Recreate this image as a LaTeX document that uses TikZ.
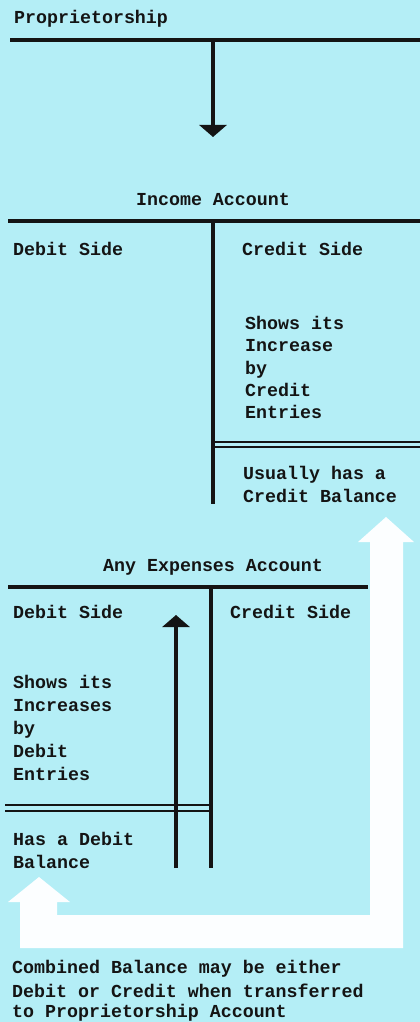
\documentclass[tikz,border=0pt]{standalone}
\usepackage{fontspec}
\setmainfont{Liberation Mono}
\usetikzlibrary{arrows.meta}
\definecolor{bgcyan}{RGB}{180,238,246}
\definecolor{ink}{RGB}{20,20,20}
\definecolor{whitearrow}{RGB}{252,254,255}
\begin{document}
\begin{tikzpicture}[x=1pt,y=-1pt,
  txt/.style={anchor=base west,inner sep=0pt,text=ink,font=\bfseries\fontsize{18.3}{22}\selectfont},
  ctxt/.style={anchor=base,inner sep=0pt,text=ink,font=\bfseries\fontsize{18.3}{22}\selectfont},
  rule/.style={draw=ink,line width=3.6pt},
  vrule/.style={draw=ink,line width=4.2pt},
  thin/.style={draw=ink,line width=1.4pt},
  blackarrow/.style={draw=ink,line width=4.2pt,-{Triangle[width=27pt,length=12pt]}}]
\fill[bgcyan] (0,0) rectangle (420,1022);
\useasboundingbox (0,0) rectangle (420,1022);
% white return arrow
\fill[whitearrow] (386,517) -- (414,542) -- (403,542) -- (403,948) -- (20,948) -- (20,902) -- (8,902) -- (39,877) -- (70,902) -- (57,902) -- (57,915) -- (370,915) -- (370,542) -- (358,542) -- cycle;
% Proprietorship
\node[txt] (prop) at (14,24) {Proprietorship};
\coordinate (pL) at (10,40);
\coordinate (pR) at (420,40);
\coordinate (pM) at (213,40);
\coordinate (pArrow) at (213,137);
\draw[rule] (pL) -- (pR);
\draw[blackarrow] (pM) -- (pArrow);
% Income account
\node[ctxt] (inc) at (213,205) {Income Account};
\coordinate (iL) at (8,221);
\coordinate (iR) at (420,221);
\coordinate (iT) at (213,221);
\coordinate (iB) at (213,504);
\draw[rule] (iL) -- (iR);
\draw[vrule] (iT) -- (iB);
\node[txt] (idebit) at (13,255) {Debit Side};
\node[txt] (icredit) at (242,255) {Credit Side};
\node[txt] (i1) at (245,329) {Shows its};
\node[txt] (i2) at (245,351) {Increase};
\node[txt] (i3) at (245,374) {by};
\node[txt] (i4) at (245,396) {Credit};
\node[txt] (i5) at (245,418) {Entries};
\coordinate (d1L) at (213,442);
\coordinate (d1R) at (420,442);
\coordinate (d2L) at (213,447);
\coordinate (d2R) at (420,447);
\draw[thin] (d1L) -- (d1R);
\draw[thin] (d2L) -- (d2R);
\node[txt] (i6) at (243,479) {Usually has a};
\node[txt] (i7) at (243,502) {Credit Balance};
% Expenses account
\node[ctxt] (exp) at (213,571) {Any Expenses Account};
\coordinate (eL) at (8,587);
\coordinate (eR) at (368,587);
\coordinate (eT) at (211,587);
\coordinate (eB) at (211,868);
\draw[rule] (eL) -- (eR);
\draw[vrule] (eT) -- (eB);
\coordinate (aB) at (176,868);
\coordinate (aT) at (176,615);
\draw[blackarrow] (aB) -- (aT);
\node[txt] (edebit) at (13,618) {Debit Side};
\node[txt] (ecredit) at (230,618) {Credit Side};
\node[txt] (e1) at (13,688) {Shows its};
\node[txt] (e2) at (13,711) {Increases};
\node[txt] (e3) at (13,734) {by};
\node[txt] (e4) at (13,757) {Debit};
\node[txt] (e5) at (13,780) {Entries};
\coordinate (f1L) at (5,805);
\coordinate (f1R) at (211,805);
\coordinate (f2L) at (5,811);
\coordinate (f2R) at (211,811);
\draw[thin] (f1L) -- (f1R);
\draw[thin] (f2L) -- (f2R);
\node[txt] (e6) at (13,845) {Has a Debit};
\node[txt] (e7) at (13,868) {Balance};
% bottom caption
\node[txt] (c1) at (12,973) {Combined Balance may be either};
\node[txt] (c2) at (12,997) {Debit or Credit when transferred};
\node[txt] (c3) at (12,1017) {to Proprietorship Account};
\end{tikzpicture}
\end{document}
